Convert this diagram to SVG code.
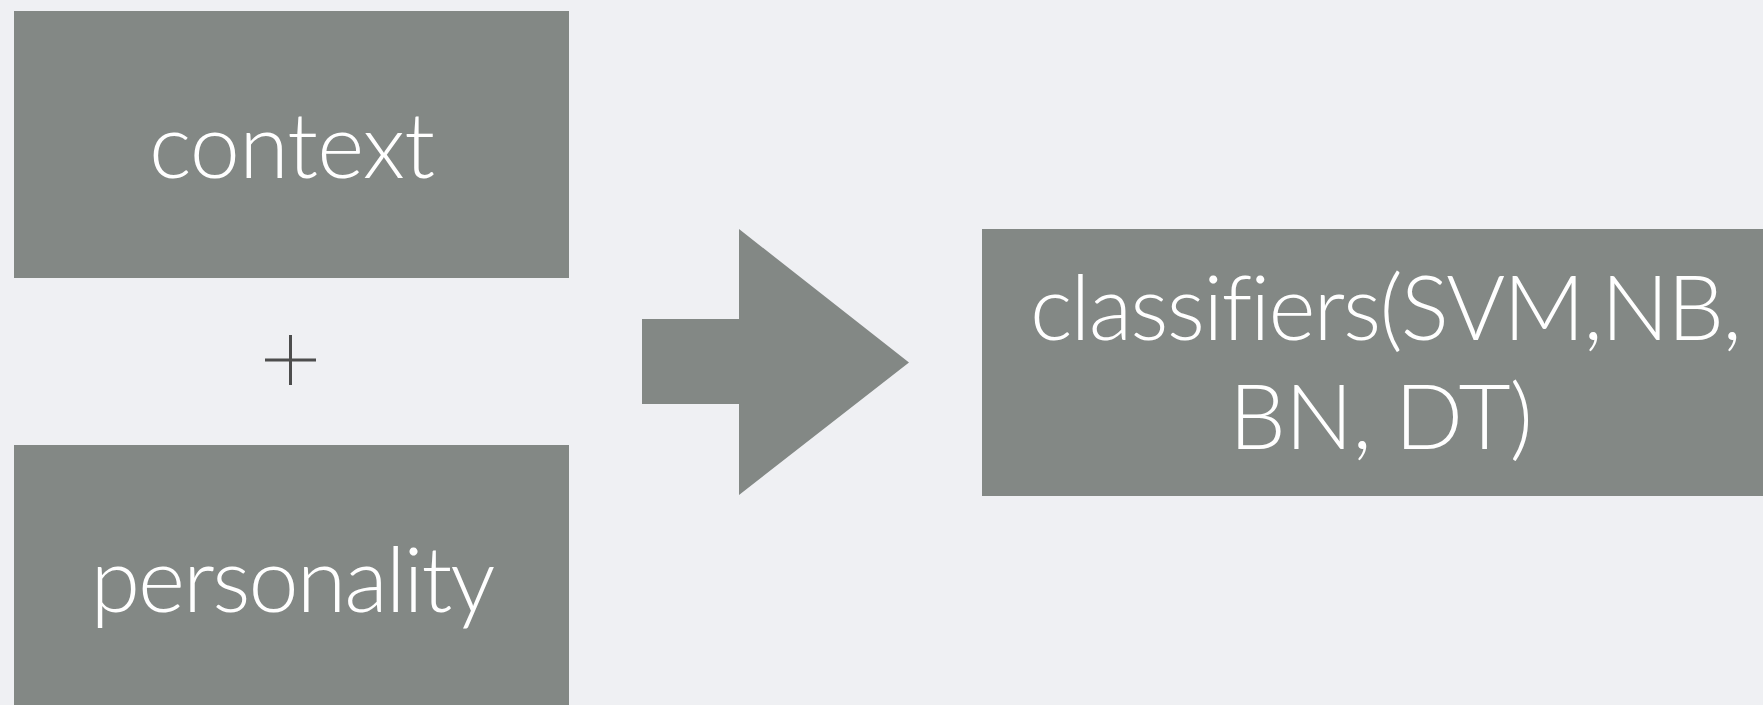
<svg xmlns="http://www.w3.org/2000/svg" width="1763" height="705" viewBox="0 0 1763 705">
<style>
.box{fill:#838885;}
.lbl{fill:#ffffff;font-family:Lato,"Open Sans","Liberation Sans",sans-serif;font-weight:300;font-size:90px;text-anchor:middle;font-variant-ligatures:none;}
</style>
<rect x="0" y="0" width="1763" height="705" fill="#eff0f3"/>
<g id="context">
<rect class="box" x="14" y="11" width="555" height="267"/>
<text class="lbl" x="292" y="178" textLength="286">context</text>
</g>
<g id="plus">
<path d="M265 360H316M290.5 335V385" stroke="#4d4d4d" stroke-width="3" fill="none"/>
</g>
<g id="personality">
<rect class="box" x="14" y="445" width="555" height="270"/>
<text class="lbl" x="293" y="612" textLength="405">personality</text>
</g>
<g id="connectors">
<polygon class="box" points="642,319 739,319 739,229 909,362.5 739,495 739,404 642,404"/>
</g>
<g id="classifiers">
<rect class="box" x="982" y="229" width="800" height="267"/>
<text class="lbl" x="1386" y="340" textLength="712">classifiers(SVM,NB,</text>
<text class="lbl" x="1381" y="449" textLength="304">BN, DT)</text>
</g>
</svg>
